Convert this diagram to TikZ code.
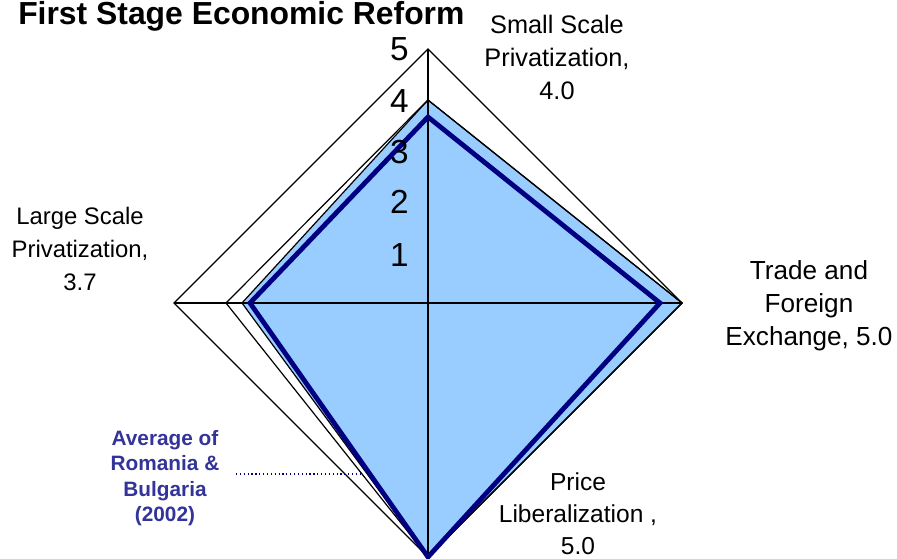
\documentclass[tikz,border=0pt]{standalone}
\usepackage{fontspec}
\setmainfont{Liberation Sans}
\definecolor{fillblue}{RGB}{153,204,255}
\definecolor{navyline}{RGB}{0,0,128}
\definecolor{legendblue}{RGB}{51,51,153}
\begin{document}
\begin{tikzpicture}[x=0.75pt,y=-0.75pt,
  thinline/.style={line width=0.9pt,black,line join=miter},
  axisline/.style={line width=1pt,black},
  cat/.style={align=center,inner sep=0pt},
  num/.style={anchor=east,font=\fontsize{25}{30}\selectfont,inner sep=0pt},
  legendtext/.style={align=center,text=legendblue,font=\fontsize{15.6}{19}\selectfont\bfseries,inner sep=0pt}]
\useasboundingbox (0,0) rectangle (897,559);
% grid (value 5)
\coordinate (T5) at (428,49);
\coordinate (R5) at (682,303);
\coordinate (B5) at (428,557);
\coordinate (L5) at (174,303);
\draw[thinline] (T5) -- (R5) -- (B5) -- (L5) -- cycle;
% filled series
\coordinate (FT) at (428,100);
\coordinate (FL) at (242,303);
\draw[thinline,fill=fillblue] (FT) -- (R5) -- (B5) -- (FL) -- cycle;
% outline series
\coordinate (GL) at (226,303);
\draw[thinline] (FT) -- (R5) -- (B5) -- (GL) -- cycle;
% axes
\draw[axisline] (T5) -- (B5);
\draw[axisline] (L5) -- (R5);
% average series
\coordinate (AT) at (428,117);
\coordinate (AR) at (660,303);
\coordinate (AL) at (250,303);
\draw[navyline,line width=3.6pt,line join=miter] (AT) -- (AR) -- (B5) -- (AL) -- cycle;
% scale numbers
\node[num] (n5) at (409,49) {5};
\node[num] (n4) at (409,101) {4};
\node[num] (n3) at (409,152) {3};
\node[num] (n2) at (409,202) {2};
\node[num] (n1) at (409,255) {1};
% title
\node[anchor=base west,inner sep=0pt,font=\fontsize{23.9}{28}\selectfont\bfseries] (title) at (18,25) {First Stage Economic Reform};
% category labels
\node[cat,font=\fontsize{19}{24.75}\selectfont] (small) at (557,57) {Small Scale\\Privatization,\\4.0};
\node[cat,font=\fontsize{17.9}{24.5}\selectfont] (large) at (80,249) {Large Scale\\Privatization,\\3.7};
\node[cat,font=\fontsize{19.6}{24.75}\selectfont] (trade) at (809,306) {Trade and\\Foreign\\Exchange, 5.0};
\node[cat,font=\fontsize{18.4}{24}\selectfont] (price) at (578,514) {Price\\Liberalization ,\\5.0};
% legend
\node[legendtext] (legend) at (165,478) {Average of\\Romania \&\\Bulgaria\\(2002)};
\coordinate (legA) at (236,474);
\coordinate (legB) at (362,474);
\draw[navyline,dotted,line width=0.9pt] (legA) -- (legB);
\end{tikzpicture}
\end{document}
